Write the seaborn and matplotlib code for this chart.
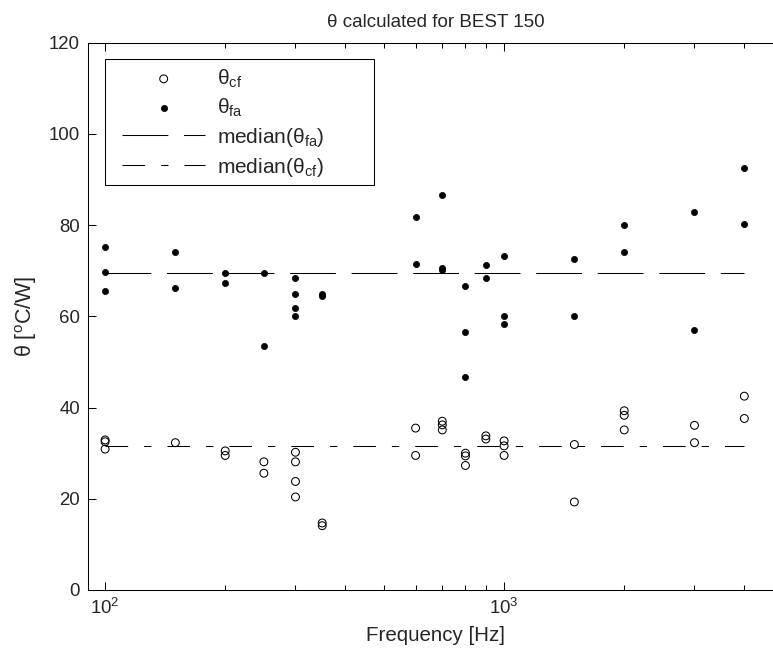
import numpy as np
import pandas as pd
import matplotlib
matplotlib.use("Agg")
import matplotlib.pyplot as plt
import matplotlib.patches as mpatches
import seaborn as sns

# valores (frequencia em Hz, theta em oC/W)
cf_freq = [100, 100, 100, 150, 200, 200, 250, 250, 300, 300, 300, 300, 350, 350,
           600, 600, 700, 700, 700, 800, 800, 800, 900, 900, 1000, 1000, 1000,
           1500, 1500, 2000, 2000, 2000, 3000, 3000, 4000, 4000]
cf_vals = [32.9, 32.5, 30.9, 32.3, 30.5, 29.5, 28.1, 25.6, 30.2, 28.1, 23.8, 20.4, 14.7, 14.1,
           35.5, 29.5, 37.0, 36.2, 35.1, 30.0, 29.4, 27.3, 33.8, 33.1, 32.7, 31.6, 29.5,
           31.9, 19.3, 39.3, 38.3, 35.1, 36.1, 32.3, 42.5, 37.6]

fa_freq = [100, 100, 100, 150, 150, 200, 200, 250, 250, 300, 300, 300, 300, 350, 350,
           600, 600, 700, 700, 700, 800, 800, 800, 900, 900, 1000, 1000, 1000,
           1500, 1500, 2000, 2000, 3000, 3000, 4000, 4000]
fa_vals = [75.1, 69.7, 65.6, 74.0, 66.3, 69.5, 67.4, 69.5, 53.6, 68.3, 64.9, 61.8, 60.1, 64.5, 65.0,
           81.7, 71.5, 86.7, 70.5, 70.2, 66.7, 56.5, 46.7, 71.2, 68.4, 73.3, 60.0, 58.3,
           72.6, 60.0, 80.0, 74.0, 82.8, 56.9, 92.6, 80.3]

median_fa = 69.4
median_cf = 31.6

y_ticks = [0, 20, 40, 60, 80, 100, 120]

df_cf = pd.DataFrame({'freq': cf_freq, 'theta': cf_vals})
df_fa = pd.DataFrame({'freq': fa_freq, 'theta': fa_vals})
f_span = [min(cf_freq + fa_freq), max(cf_freq + fa_freq)]

sns.set_theme(style='ticks')
plt.rcParams['font.family'] = ['Liberation Sans', 'DejaVu Sans']
plt.rcParams['mathtext.fontset'] = 'custom'
plt.rcParams['mathtext.rm'] = 'Liberation Sans'
plt.rcParams['mathtext.it'] = 'Liberation Sans:italic'
plt.rcParams['mathtext.bf'] = 'Liberation Sans:bold'
plt.rcParams['lines.scale_dashes'] = False
plt.rcParams['axes.linewidth'] = 0.75
plt.rcParams['xtick.direction'] = 'in'
plt.rcParams['ytick.direction'] = 'in'
plt.rcParams['xtick.top'] = True
plt.rcParams['ytick.right'] = True

fig = plt.figure(figsize=(7.73, 6.56), dpi=100)
ax_w = 695
ax_h = 547.3
ax = fig.add_axes([88 / 773, 66 / 656, ax_w / 773, ax_h / 656])

sns.scatterplot(data=df_cf, x='freq', y='theta', ax=ax, marker='o', s=32,
                facecolors='none', edgecolor='black', linewidth=0.75,
                label=r'θ$_{\mathrm{cf}}$')
sns.scatterplot(data=df_fa, x='freq', y='theta', ax=ax, marker='o', s=20,
                color='black', edgecolor='black', linewidth=0.5,
                label=r'θ$_{\mathrm{fa}}$')

ax.plot(f_span, [median_fa, median_fa], color='black', lw=0.75,
        linestyle=(0, (33, 11.3)), label=r'median(θ$_{\mathrm{fa}}$)')
ax.plot(f_span, [median_cf, median_cf], color='black', lw=0.75,
        linestyle=(0, (16.3, 11.5, 5.3, 11.5)), label=r'median(θ$_{\mathrm{cf}}$)')

ax.set_xscale('log')
ax.set_xlim(90.6, 5000)
ax.set_ylim(0, 120)
ax.set_yticks(y_ticks)
ax.set_xticks([100, 1000])
ax.set_xticks([200, 300, 400, 500, 600, 700, 800, 900, 2000, 3000, 4000], minor=True)
ax.xaxis.set_minor_formatter(matplotlib.ticker.NullFormatter())

ax.tick_params(axis='both', which='major', labelsize=13.4, length=5.8, width=0.75,
               color='black', pad=5.8)
ax.tick_params(axis='x', which='minor', length=3.6, width=0.75, color='black')
for s in ax.spines.values():
    s.set_color('black')

ax.set_title('θ calculated for BEST 150', fontsize=13.5, pad=11)
ax.set_xlabel('Frequency [Hz]', fontsize=14.8, labelpad=6)
ax.set_ylabel(r'θ [$^{\mathrm{o}}$C/W]', fontsize=15.5, labelpad=7)

# legenda sem moldura + retangulo como moldura (estilo MATLAB)
leg = ax.legend(loc='upper left',
                bbox_to_anchor=((122 - 88) / ax_w, (590 - 67.3) / ax_h),
                borderaxespad=0, borderpad=0, fontsize=15, frameon=False,
                handlelength=4.0, handletextpad=0.55,
                labelspacing=0.33, scatterpoints=1)
moldura = mpatches.Rectangle((17 / ax_w, (590 - 185) / ax_h), 269 / ax_w, 126 / ax_h,
                             transform=ax.transAxes, fill=False, edgecolor='black',
                             linewidth=0.75, zorder=5, clip_on=False)
ax.add_patch(moldura)

fig.savefig('out.png', dpi=100)
